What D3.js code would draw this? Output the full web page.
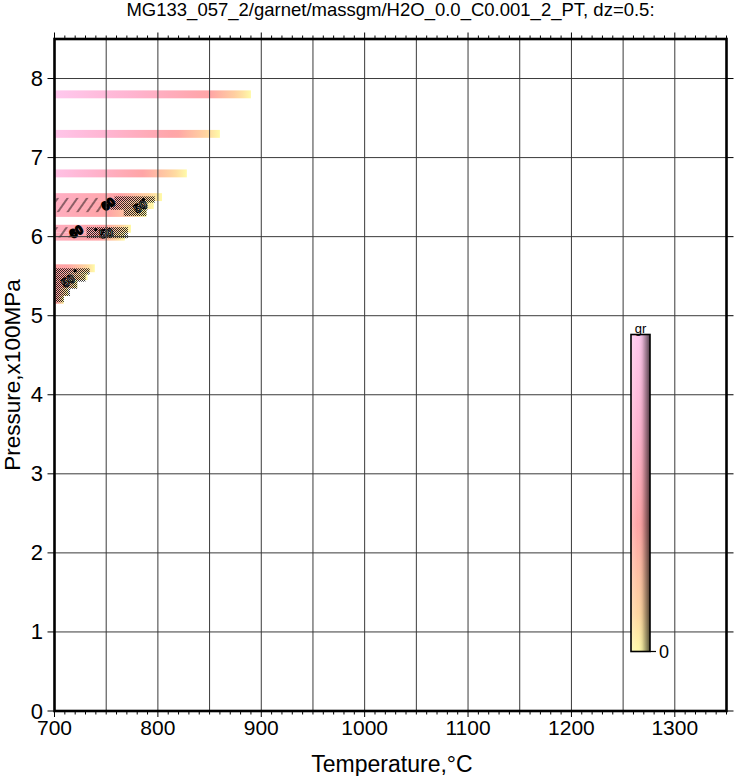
<!DOCTYPE html>
<html>
<head>
<meta charset="utf-8">
<script src="https://cdn.jsdelivr.net/npm/d3@7"></script>
<style>
  html, body { margin: 0; padding: 0; background: #fff; }
  svg { display: block; font-family: "Liberation Sans", Arial, Helvetica, sans-serif; }
</style>
</head>
<body>
<svg id="chart" width="734" height="776"></svg>
<script>
// ---------------- data ----------------
const titleText = "MG133_057_2/garnet/massgm/H2O_0.0_C0.001_2_PT, dz=0.5:";
const xTicks = [700, 800, 900, 1000, 1100, 1200, 1300];
const yTicks = [0, 1, 2, 3, 4, 5, 6, 7, 8];
const xGrid = [750, 800, 850, 900, 950, 1000, 1050, 1100, 1150, 1200, 1250, 1300];
const yGrid = [1, 2, 3, 4, 5, 6, 7, 8];

// rows of the PT grid that carry garnet (pressure, x100MPa)
const rowP     = [7.8, 7.3, 6.8, 6.5, 6.4, 6.3, 6.1, 6.0, 5.6, 5.5, 5.4, 5.3, 5.2];
// temperature where garnet vanishes along each row
const rowTmax  = [890, 860, 828, 804, 796, 789, 774, 768, 739, 732, 722, 713, 709];
// garnet value at 700 °C (normalised to colour-bar range)
const rowGr0   = [1.00, 0.95, 0.90, 0.62, 0.60, 0.58, 0.58, 0.56, 0.40, 0.38, 0.36, 0.34, 0.32];
// temperature where value falls to 0.4 (salmon)
const rowTmid  = [850, 818, 785, 765, 758, 752, 748, 744, 712, 708, 705, 703, 702];
const rowDP = 0.1;

// dense contour-line shading  [t0, t1, p0, p1]
const diagCells  = [[701, 745, 6.31, 6.49], [701, 716, 5.99, 6.12]];
const crossCells = [[758, 797, 6.43, 6.51], [754, 790, 6.34, 6.43], [767, 789, 6.26, 6.34],
                    [731, 771, 5.98, 6.12],
                    [701, 734, 5.52, 5.60], [701, 730, 5.43, 5.52], [701, 722, 5.34, 5.43],
                    [701, 715, 5.25, 5.34], [701, 709, 5.17, 5.25]];
// contour labels [T, P, angle, text, solid]
const contourLabels = [[752, 6.41, -35, "60", 1], [783, 6.38, -30, "50", 0],
                       [721, 6.06, -30, "60", 1], [750, 6.04, -10, "50", 0],
                       [713, 5.44, -35, "50", 0]];
const labelDots = [[786, 6.47], [740, 6.09], [720, 5.57]];

// colour bar
const cbDomain = [0, 0.12, 0.4, 0.7, 1];
const cbColors = ["#fffaa8", "#ffd6a0", "#ffa4a6", "#ffb4d0", "#ffc8ee"];
const cbTop = "gr", cbBottom = "0";

// ---------------- drawing ----------------
const svg = d3.select("#chart");
const x = d3.scaleLinear().domain([700, 1350]).range([54.5, 726.5]);
const y = d3.scaleLinear().domain([0, 8.5]).range([711, 39]);
const col = d3.scaleLinear().domain(cbDomain).range(cbColors).interpolate(d3.interpolateRgb);

const defs = svg.append("defs");
const clip = defs.append("clipPath").attr("id", "plotclip");
clip.append("rect").attr("x", x(700)).attr("y", y(8.5)).attr("width", x(1350) - x(700)).attr("height", y(0) - y(8.5));

// patterns
const pd = defs.append("pattern").attr("id", "diag").attr("patternUnits", "userSpaceOnUse")
  .attr("width", 8).attr("height", 8).attr("patternTransform", "rotate(35)");
pd.append("line").attr("x1", 1).attr("y1", 0).attr("x2", 1).attr("y2", 8)
  .attr("stroke", "#000").attr("stroke-width", 0.9);
const pc = defs.append("pattern").attr("id", "cross").attr("patternUnits", "userSpaceOnUse")
  .attr("width", 2).attr("height", 2);
pc.append("rect").attr("x", 0).attr("y", 0).attr("width", 1).attr("height", 1).attr("fill", "#000").attr("fill-opacity", 0.8);
pc.append("rect").attr("x", 1).attr("y", 1).attr("width", 1).attr("height", 1).attr("fill", "#000").attr("fill-opacity", 0.8);

// row gradients
const rows = rowP.map((p, i) => ({p, tmax: rowTmax[i], g0: rowGr0[i], tmid: rowTmid[i], i}));
function grAt(r, t) {
  if (t <= r.tmid) return r.g0 + (0.4 - r.g0) * (t - 700) / (r.tmid - 700);
  return 0.4 * (r.tmax - t) / (r.tmax - r.tmid);
}
rows.forEach(r => {
  const g = defs.append("linearGradient").attr("id", "row" + r.i)
    .attr("gradientUnits", "userSpaceOnUse")
    .attr("x1", x(700)).attr("x2", x(r.tmax)).attr("y1", 0).attr("y2", 0);
  const n = 24;
  d3.range(n + 1).forEach(k => {
    const t = 700 + (r.tmax - 700) * k / n;
    g.append("stop").attr("offset", k / n).attr("stop-color", col(Math.max(0, grAt(r, t))));
  });
});

const plot = svg.append("g").attr("clip-path", "url(#plotclip)");
plot.selectAll("rect.row").data(rows).join("rect").attr("class", "row")
  .attr("x", x(700)).attr("width", r => x(r.tmax) - x(700))
  .attr("y", r => y(r.p + rowDP / 2)).attr("height", r => y(r.p - rowDP / 2) - y(r.p + rowDP / 2))
  .attr("fill", r => "url(#row" + r.i + ")");

plot.selectAll("rect.diag").data(diagCells).join("rect").attr("class", "diag")
  .attr("x", d => x(d[0])).attr("width", d => x(d[1]) - x(d[0]))
  .attr("y", d => y(d[3])).attr("height", d => y(d[2]) - y(d[3]))
  .attr("fill", "url(#diag)");
plot.selectAll("rect.cross").data(crossCells).join("rect").attr("class", "cross")
  .attr("x", d => x(d[0])).attr("width", d => x(d[1]) - x(d[0]))
  .attr("y", d => y(d[3])).attr("height", d => y(d[2]) - y(d[3]))
  .attr("fill", "url(#cross)");
plot.selectAll("text.cl").data(contourLabels).join("text").attr("class", "cl")
  .attr("transform", d => `translate(${x(d[0])},${y(d[1])}) rotate(${d[2]})`)
  .attr("text-anchor", "middle").attr("dominant-baseline", "central")
  .attr("font-size", 12).attr("font-weight", "bold")
  .attr("fill", d => d[4] ? "#000" : "#fff")
  .attr("stroke", "#000").attr("stroke-width", d => d[4] ? 1.6 : 1.1)
  .text(d => d[3]);
plot.selectAll("circle.dot").data(labelDots).join("circle").attr("class", "dot")
  .attr("cx", d => x(d[0])).attr("cy", d => y(d[1])).attr("r", 1.6).attr("fill", "#000");

// grid
const grid = svg.append("g");
grid.selectAll("line.vg").data(xGrid).join("line").attr("class", "vg")
  .attr("x1", d => x(d)).attr("x2", d => x(d)).attr("y1", y(8.5)).attr("y2", y(0))
  .attr("stroke", "#3a3a3a").attr("stroke-width", 1);
grid.selectAll("line.hg").data(yGrid).join("line").attr("class", "hg")
  .attr("x1", x(700)).attr("x2", x(1350)).attr("y1", d => y(d)).attr("y2", d => y(d))
  .attr("stroke", "#3a3a3a").attr("stroke-width", 1);

// colour bar
const cb = {x0: 631, x1: 650, y0: 334.5, y1: 651.5};
const cbg = defs.append("linearGradient").attr("id", "cbv").attr("x1", 0).attr("x2", 0).attr("y1", 1).attr("y2", 0);
cbDomain.forEach((d, i) => cbg.append("stop").attr("offset", d).attr("stop-color", cbColors[i]));
const cbs = defs.append("linearGradient").attr("id", "cbh").attr("x1", 0).attr("x2", 1).attr("y1", 0).attr("y2", 0);
cbs.append("stop").attr("offset", 0).attr("stop-color", "#fff").attr("stop-opacity", 0.25);
cbs.append("stop").attr("offset", 0.35).attr("stop-color", "#fff").attr("stop-opacity", 0);
cbs.append("stop").attr("offset", 0.6).attr("stop-color", "#000").attr("stop-opacity", 0.12);
cbs.append("stop").attr("offset", 1).attr("stop-color", "#000").attr("stop-opacity", 0.68);
svg.append("rect").attr("x", cb.x0).attr("y", cb.y0).attr("width", cb.x1 - cb.x0).attr("height", cb.y1 - cb.y0)
  .attr("fill", "url(#cbv)");
svg.append("rect").attr("x", cb.x0).attr("y", cb.y0).attr("width", cb.x1 - cb.x0).attr("height", cb.y1 - cb.y0)
  .attr("fill", "url(#cbh)").attr("stroke", "#000").attr("stroke-width", 1.6);
svg.append("line").attr("x1", cb.x1).attr("x2", cb.x1 + 6).attr("y1", cb.y1).attr("y2", cb.y1)
  .attr("stroke", "#000").attr("stroke-width", 1.2);
svg.append("text").attr("x", (cb.x0 + cb.x1) / 2).attr("y", cb.y0 - 2).attr("text-anchor", "middle")
  .attr("font-size", 13).text(cbTop);
svg.append("text").attr("x", cb.x1 + 9).attr("y", cb.y1).attr("dominant-baseline", "central")
  .attr("font-size", 18).text(cbBottom);

// axes ticks
const axes = svg.append("g");
const minorX = d3.range(700, 1351, 10);
axes.selectAll("line.bmin").data(minorX).join("line")
  .attr("x1", d => x(d)).attr("x2", d => x(d)).attr("y1", y(0)).attr("y2", d => y(0) + (d % 100 === 0 ? 6 : 3.5))
  .attr("stroke", "#000").attr("stroke-width", 1);
axes.selectAll("line.tmin").data(minorX).join("line")
  .attr("x1", d => x(d)).attr("x2", d => x(d)).attr("y1", y(8.5)).attr("y2", d => y(8.5) - (d % 100 === 0 ? 6.5 : 3.5))
  .attr("stroke", "#000").attr("stroke-width", 1);
axes.selectAll("line.lt").data(yTicks).join("line")
  .attr("x1", x(700) - 7).attr("x2", x(700)).attr("y1", d => y(d)).attr("y2", d => y(d))
  .attr("stroke", "#000").attr("stroke-width", 1);
axes.selectAll("line.rt").data(yTicks).join("line")
  .attr("x1", x(1350)).attr("x2", x(1350) + 7).attr("y1", d => y(d)).attr("y2", d => y(d))
  .attr("stroke", "#000").attr("stroke-width", 1);

// frame
svg.append("rect").attr("x", x(700)).attr("y", y(8.5)).attr("width", x(1350) - x(700)).attr("height", y(0) - y(8.5))
  .attr("fill", "none").attr("stroke", "#000").attr("stroke-width", 2.6);

// tick labels
axes.selectAll("text.xl").data(xTicks).join("text")
  .attr("x", d => x(d)).attr("y", 735).attr("text-anchor", "middle").attr("font-size", 21).text(d => d);
axes.selectAll("text.yl").data(yTicks).join("text")
  .attr("x", 43).attr("y", d => y(d)).attr("text-anchor", "end").attr("dominant-baseline", "central")
  .attr("font-size", 22).text(d => d);

// titles
svg.append("text").attr("x", (x(700) + x(1350)) / 2).attr("y", 16).attr("text-anchor", "middle")
  .attr("font-size", 18.5).text(titleText);
svg.append("text").attr("x", 392).attr("y", 772).attr("text-anchor", "middle")
  .attr("font-size", 23).text("Temperature,°C");
svg.append("text").attr("transform", `translate(20,${(y(0) + y(8.5)) / 2}) rotate(-90)`)
  .attr("text-anchor", "middle").attr("font-size", 22.5).text("Pressure,x100MPa");
</script>
</body>
</html>
